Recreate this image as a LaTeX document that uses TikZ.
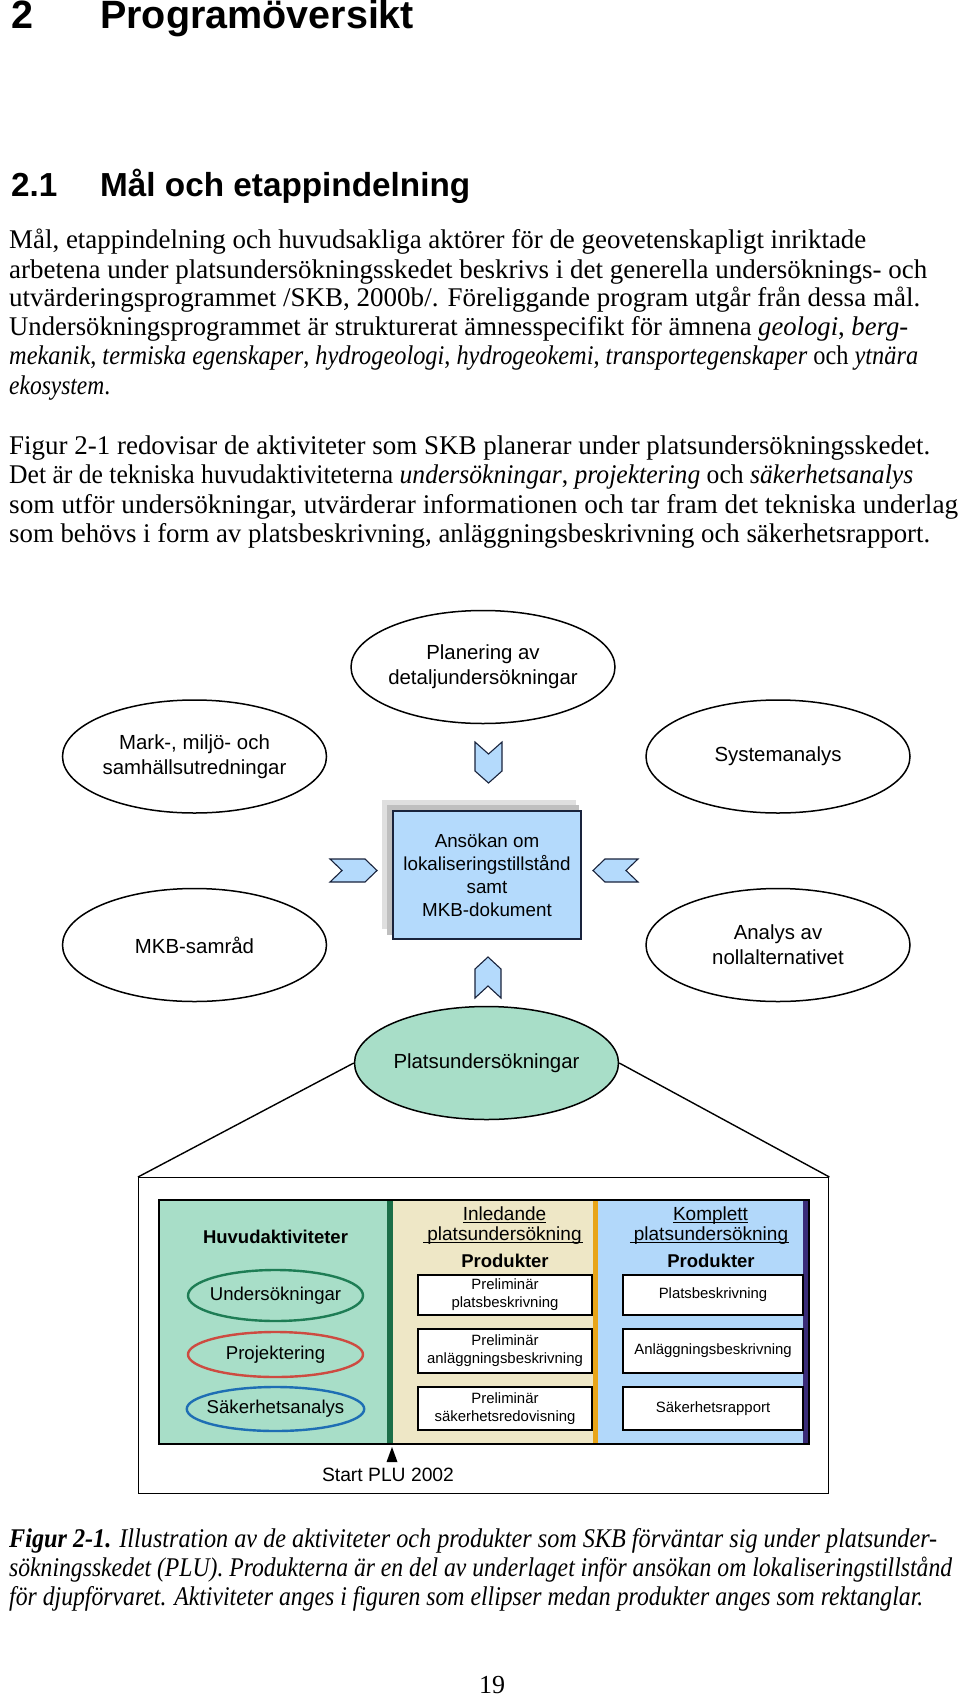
\documentclass[tikz,border=0pt]{standalone}
\usepackage{graphicx}
\usepackage{fontspec}
\setmainfont{Liberation Serif}
\setsansfont{Liberation Sans}
\usetikzlibrary{shapes.geometric}
\definecolor{boxblue}{RGB}{180,218,252}
\definecolor{mint}{RGB}{168,222,200}
\definecolor{beige}{RGB}{238,231,198}
\definecolor{skyblue}{RGB}{178,216,250}
\definecolor{dkgreen}{RGB}{27,110,72}
\definecolor{gold}{RGB}{232,165,25}
\definecolor{indigo}{RGB}{58,44,120}
\definecolor{navy}{RGB}{25,35,60}
\definecolor{ovgreen}{RGB}{30,125,85}
\definecolor{ovred}{RGB}{205,75,65}
\definecolor{ovblue}{RGB}{30,110,180}
\newcommand\fs[2]{\fontsize{#1}{#2}\selectfont}
\newcommand\ul[1]{\setbox0\hbox{#1}\rlap{\rule[-3pt]{\wd0}{1pt}}\box0}
\newcommand\rad[2]{\resizebox{#1pt}{\height}{#2}}
\begin{document}
\begin{tikzpicture}[x=1pt,y=-1pt,
	rubrik/.style={anchor=base west,inner sep=0,font=\sffamily\bfseries\fs{39.5}{40}},
	body/.style={anchor=base west,inner sep=0,font=\fs{27}{29}},
	oval/.style={draw,ellipse,line width=1.5,minimum width=264,minimum height=113,inner sep=-6pt,align=center,font=\sffamily\fs{20.4}{25}},
	act/.style={ellipse,line width=2.4,minimum width=175,inner sep=-6pt,font=\sffamily\fs{18.6}{22}},
	prod/.style={draw,line width=1.8,fill=white,inner sep=1pt,align=center,font=\sffamily\fs{14.9}{18}},
	head/.style={anchor=base,inner sep=0,font=\sffamily\fs{19}{20}},
	chev/.style={draw=navy,fill=boxblue,line width=1.1}]
	\useasboundingbox(0,0)rectangle(960,1696);
	\node[rubrik](kap) at(11,28.5){2};
	\node[rubrik](kapt) at(100,28.5){Programöversikt};
	\node[rubrik,font=\sffamily\bfseries\fs{33.3}{35}](avs) at(11,197){2.1};
	\node[rubrik,font=\sffamily\bfseries\fs{33.3}{35}](avst) at(100,197){Mål och etappindelning};
	\node[body](p1) at(9,249){\rad{857}{Mål, etappindelning och huvudsakliga aktörer för de geovetenskapligt inriktade}};
	\node[body](p2) at(9,278){\rad{918}{arbetena under platsundersökningsskedet beskrivs i det generella undersöknings- och}};
	\node[body](p3) at(9,306.5){\rad{911}{utvärderingsprogrammet /SKB, 2000b/. Föreliggande program utgår från dessa mål.}};
	\node[body](p4) at(9,335){\rad{899}{Undersökningsprogrammet är strukturerat ämnesspecifikt för ämnena \textit{geologi}, \textit{berg-}}};
	\node[body](p5) at(9,364.5){\rad{909}{\textit{mekanik}, \textit{termiska egenskaper}, \textit{hydrogeologi}, \textit{hydrogeokemi}, \textit{transportegenskaper} och \textit{ytnära}}};
	\node[body](p6) at(9,394){\rad{101}{\textit{ekosystem}.}};
	\node[body](q1) at(9,454){\rad{921}{Figur 2-1 redovisar de aktiviteter som SKB planerar under platsundersökningsskedet.}};
	\node[body](q2) at(9,483.5){\rad{904}{Det är de tekniska huvudaktiviteterna \textit{undersökningar}, \textit{projektering} och \textit{säkerhetsanalys}}};
	\node[body](q3) at(9,513){\rad{949}{som utför undersökningar, utvärderar informationen och tar fram det tekniska underlag}};
	\node[body](q4) at(9,542.5){\rad{921}{som behövs i form av platsbeskrivning, anläggningsbeskrivning och säkerhetsrapport.}};
	\fill[gray!25](382,800)rectangle(576,929);
	\fill[gray!50](387,805)rectangle(579,935);
	\node[draw=navy,fill=boxblue,line width=1.4,minimum width=188,minimum height=128,align=center,font=\sffamily\fs{18.8}{23}](ansok) at(487,875){Ansökan om\\lokaliseringstillstånd\\samt\\MKB-dokument};
	\node[oval](plan) at(483,667){Planering av\\detaljundersökningar};
	\node[oval](mark) at(194.5,756.5){Mark-, miljö- och\\samhällsutredningar};
	\node[oval](syst) at(778,756.5){Systemanalys};
	\node[oval](samr) at(194.5,945){MKB-samråd};
	\node[oval](noll) at(778,945){Analys av\\nollalternativet};
	\draw[chev](475,742)--(488.5,754)--(502,742)--(502,771)--(488.5,783)--(475,771)--cycle;
	\draw[chev](475,998)--(488,986)--(501,998)--(501,969)--(488,957)--(475,969)--cycle;
	\draw[chev](330,859)--(365,859)--(377,870.5)--(365,882)--(330,882)--(342,870.5)--cycle;
	\draw[chev](638,859)--(605,859)--(593,870.5)--(605,882)--(638,882)--(626,870.5)--cycle;
	\node[draw,line width=1.4,minimum width=690,minimum height=316,anchor=north west](ram) at(138,1177){};
	\node[oval,fill=mint](plats) at(486.5,1063){Platsundersökningar};
	\draw[line width=1.4](plats.west)--(ram.north west) (plats.east)--(ram.north east);
	\fill[mint](159,1200)rectangle(390,1444);
	\fill[beige](390,1200)rectangle(595.5,1444);
	\fill[skyblue](595.5,1200)rectangle(806,1444);
	\draw[dkgreen,line width=6](390,1200)--(390,1444);
	\draw[gold,line width=5](595.5,1200)--(595.5,1444);
	\draw[indigo,line width=6](806,1200)--(806,1444);
	\draw[line width=1.3](159,1200)rectangle(809,1444);
	\node[inner sep=0,font=\sffamily\bfseries\fs{18.5}{20}](huvud) at(275.5,1237){Huvudaktiviteter};
	\node[act,draw=ovgreen,minimum height=51](und) at(275.5,1295.5){Undersökningar};
	\node[act,draw=ovred,minimum height=45](proj) at(275.5,1354.5){Projektering};
	\node[act,draw=ovblue,minimum height=44](sak) at(275.5,1409){Säkerhetsanalys};
	\node[head](inl) at(504.5,1220){\ul{Inledande}};
	\node[head](inl2) at(503,1240){\ul{\kern4pt platsundersökning\kern1pt}};
	\node[head,font=\sffamily\bfseries\fs{18.5}{20}](prod1) at(505,1267){Produkter};
	\node[head](kom) at(710.5,1220){\ul{Komplett}};
	\node[head](kom2) at(709.5,1240){\ul{\kern4pt platsundersökning\kern1pt}};
	\node[head,font=\sffamily\bfseries\fs{18.5}{20}](prod2) at(711,1267){Produkter};
	\node[prod,minimum width=174,minimum height=40](pp1) at(505,1295){Preliminär\\platsbeskrivning};
	\node[prod,minimum width=174,minimum height=44](pp2) at(505,1351){Preliminär\\anläggningsbeskrivning};
	\node[prod,minimum width=174,minimum height=43](pp3) at(505,1408.5){Preliminär\\säkerhetsredovisning};
	\node[prod,minimum width=180,minimum height=40](kp1) at(713,1295){Platsbeskrivning};
	\node[prod,minimum width=180,minimum height=44](kp2) at(713,1351){Anläggningsbeskrivning};
	\node[prod,minimum width=180,minimum height=43](kp3) at(713,1408.5){Säkerhetsrapport};
	\fill(392,1447)--(397.5,1462)--(386.5,1462)--cycle;
	\node[inner sep=0,font=\sffamily\fs{19.3}{20}](start) at(388,1475){Start PLU 2002};
	\node[body](c1) at(9,1547){\rad{928}{\textbf{\textit{Figur 2-1.}} \textit{Illustration av de aktiviteter och produkter som SKB förväntar sig under platsunder-}}};
	\node[body](c2) at(9,1576){\rad{943}{\textit{sökningsskedet (PLU). Produkterna är en del av underlaget inför ansökan om lokaliseringstillstånd}}};
	\node[body](c3) at(9,1605){\rad{914}{\textit{för djupförvaret. Aktiviteter anges i figuren som ellipser medan produkter anges som rektanglar.}}};
	\node[anchor=base,inner sep=0,font=\fs{26}{28}](sida) at(492,1693){19};
\end{tikzpicture}
\end{document}
